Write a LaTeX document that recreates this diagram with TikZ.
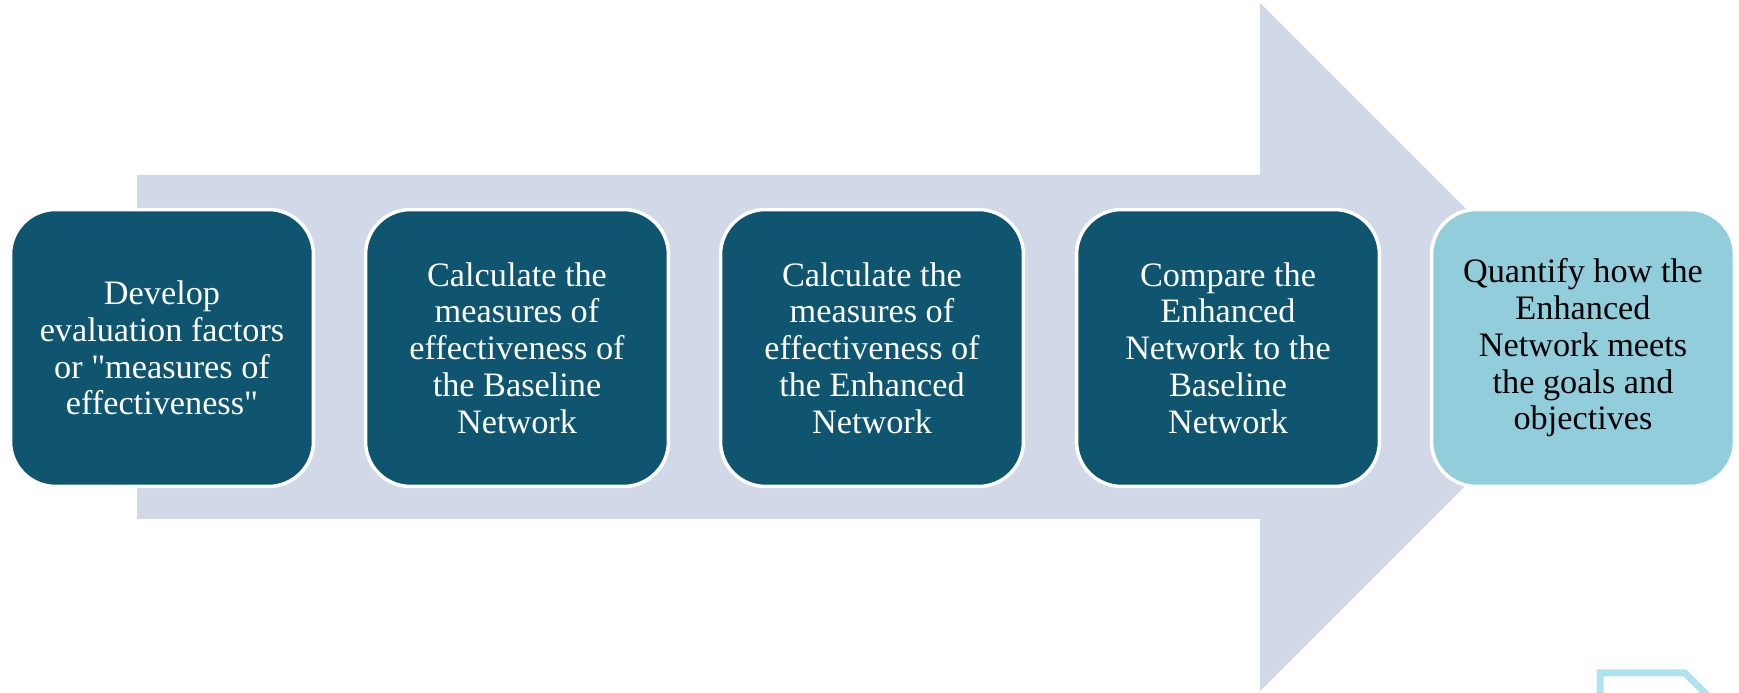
\documentclass[tikz,border=0pt]{standalone}
\usepackage{fontspec}
\setmainfont{Liberation Serif}
\usepackage{tikz}

\definecolor{arrowgrey}{HTML}{D1D8E8}
\definecolor{stepdark}{HTML}{0F5570}
\definecolor{steplight}{HTML}{92CDDC}
\definecolor{edgecyan}{HTML}{AEE3EE}

\begin{document}
\begin{tikzpicture}[x=0.02cm, y=0.02cm,
  stepbox/.style={draw=white, line width=0.07cm, rounded corners=0.9cm,
                  minimum width=6.06cm, minimum height=5.54cm, align=center,
                  inner sep=0pt, font=\fontsize{19.5}{20.9}\selectfont},
  darkstep/.style={stepbox, fill=stepdark, text=white},
  lightstep/.style={stepbox, fill=steplight, text=black}]
  \useasboundingbox (0,0) rectangle (1739,693);
  % big grey arrow behind the steps
  \fill[arrowgrey] (137,518) -- (1260,518) -- (1260,690) -- (1604,346)
    -- (1260,2) -- (1260,174) -- (137,174) -- cycle;
  % the five steps
  \node[darkstep]  (dev)  at (162,345)  {Develop\\evaluation factors\\or \textquotedbl measures of\\effectiveness\textquotedbl};
  \node[darkstep]  (base) at (517,345)  {Calculate the\\measures of\\effectiveness of\\the Baseline\\Network};
  \node[darkstep]  (enh)  at (872,345)  {Calculate the\\measures of\\effectiveness of\\the Enhanced\\Network};
  \node[darkstep]  (cmp)  at (1228,345) {Compare the\\Enhanced\\Network to the\\Baseline\\Network};
  \node[lightstep] (qty)  at (1583,345) {Quantify how the\\Enhanced\\Network meets\\the goals and\\objectives};
  % cut-off outline in the corner
  \begin{scope}
    \clip (0,0) rectangle (1739,693);
    \draw[edgecyan, line width=0.14cm] (1600,-10) -- (1600,20) -- (1685,20) -- (1715,-10);
  \end{scope}
\end{tikzpicture}
\end{document}
